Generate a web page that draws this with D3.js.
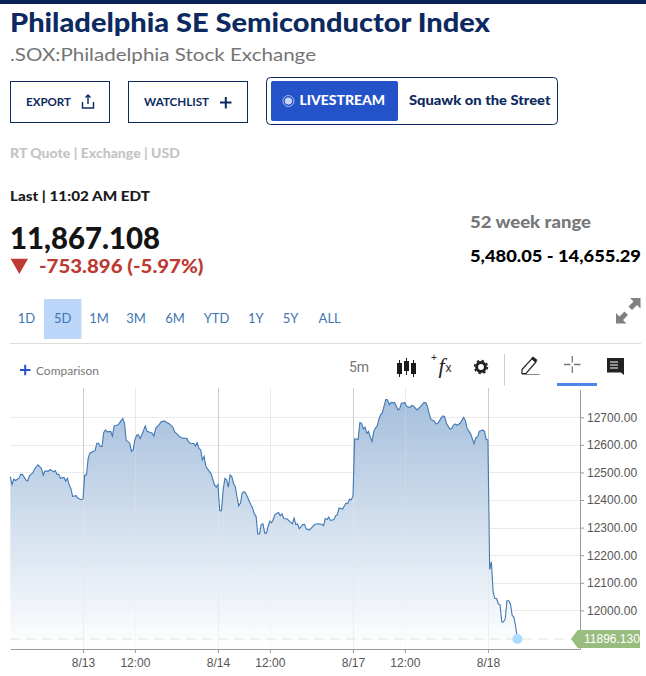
<!DOCTYPE html>
<html>
<head>
<meta charset="utf-8">
<title>Philadelphia SE Semiconductor Index</title>
<script src="https://cdn.jsdelivr.net/npm/d3@7"></script>
<style>
  html, body { margin: 0; padding: 0; background: #fff; overflow: hidden; }
  svg { display: block; }
</style>
</head>
<body>
<div id="chart"></div>
<script>
// 5 minute bars, counted from the first bar on the chart
const bars = [
  0, 1, 2, 3, 5, 6, 7, 9, 10, 11, 13, 14, 16, 18, 19, 20, 22, 23, 25, 26,
  27, 28, 29, 31, 32, 33, 34, 35, 36, 38, 39, 41, 42, 43, 44, 45, 46, 48, 49, 50,
  51, 52, 53, 54, 55, 56, 58, 59, 60, 62, 63, 64, 65, 66, 67, 68, 69, 70, 71, 72,
  73, 74, 75, 76, 78, 79, 81, 82, 83, 84, 86, 87, 89, 90, 92, 94, 95, 96, 98, 100,
  102, 103, 104, 106, 107, 108, 109, 110, 111, 112, 113, 115, 116, 118, 119, 120, 121, 122, 123, 124,
  125, 126, 127, 128, 129, 130, 131, 132, 133, 134, 135, 136, 137, 139, 140, 141, 142, 143, 144, 145,
  146, 147, 148, 149, 150, 151, 152, 153, 155, 156, 157, 158, 160, 162, 163, 164, 165, 166, 167, 169,
  170, 171, 173, 174, 176, 178, 180, 181, 182, 183, 184, 185, 187, 188, 189, 190, 192, 194, 195, 196,
  197, 198, 199, 201, 202, 203, 204, 205, 206, 207, 208, 209, 210, 211, 212, 213, 214, 215, 217, 218,
  219, 220, 222, 223, 224, 225, 226, 228, 229, 231, 232, 233, 235, 237, 239, 240, 241, 242, 243, 245,
  246, 247, 249, 250, 251, 252, 254, 255, 256, 257, 258, 260, 261, 262, 263, 264, 266, 268, 269, 270,
  271, 273, 274, 275, 276, 277, 278, 279, 280, 281, 282, 283, 284, 285, 286, 287, 288, 289, 290, 291,
  292, 293
];
const prices = [
  12485, 12456, 12476, 12471, 12479, 12493, 12493, 12473, 12469, 12488, 12498, 12512, 12528, 12514, 12490, 12505, 12505, 12511, 12502, 12507,
  12493, 12493, 12479, 12482, 12469, 12479, 12455, 12442, 12413, 12416, 12407, 12401, 12403, 12491, 12491, 12552, 12570, 12577, 12579, 12606,
  12606, 12594, 12594, 12645, 12654, 12647, 12649, 12632, 12669, 12672, 12678, 12688, 12695, 12678, 12616, 12612, 12606, 12577, 12582, 12618,
  12635, 12637, 12623, 12636, 12669, 12649, 12645, 12642, 12632, 12660, 12673, 12683, 12687, 12683, 12676, 12664, 12647, 12642, 12628, 12624,
  12624, 12612, 12606, 12605, 12596, 12608, 12587, 12582, 12546, 12558, 12522, 12504, 12495, 12455, 12447, 12456, 12361, 12361, 12437, 12478,
  12473, 12447, 12491, 12485, 12459, 12449, 12411, 12379, 12389, 12425, 12430, 12425, 12411, 12383, 12371, 12350, 12341, 12277, 12277, 12311,
  12314, 12280, 12280, 12305, 12323, 12317, 12331, 12348, 12355, 12343, 12350, 12333, 12331, 12319, 12314, 12335, 12311, 12313, 12296, 12311,
  12312, 12295, 12292, 12299, 12312, 12314, 12312, 12307, 12333, 12329, 12338, 12326, 12329, 12343, 12348, 12371, 12367, 12389, 12387, 12403,
  12401, 12413, 12622, 12620, 12681, 12678, 12657, 12664, 12642, 12649, 12628, 12612, 12648, 12661, 12669, 12693, 12710, 12717, 12765, 12763,
  12746, 12753, 12753, 12741, 12727, 12731, 12751, 12753, 12739, 12736, 12743, 12741, 12727, 12739, 12753, 12753, 12741, 12714, 12693, 12686,
  12676, 12678, 12698, 12705, 12702, 12678, 12657, 12659, 12671, 12676, 12671, 12678, 12690, 12700, 12688, 12659, 12640, 12604, 12626, 12628,
  12649, 12654, 12649, 12620, 12618, 12148, 12176, 12067, 12043, 12043, 12023, 12021, 11958, 11958, 11970, 12035, 12035, 12023, 11982, 11975,
  11943, 11896.13
];
const lastPrice = 11896.13;

const priceTicks = [12000, 12100, 12200, 12300, 12400, 12500, 12600, 12700];
const timeTicks = [42, 72, 120, 150, 198, 228, 276];
const timeLabels = ["8/13", "12:00", "8/14", "12:00", "8/17", "12:00", "8/18"];
const dayTicks = [42, 120, 198, 276];
const rangeLabels = ["1D", "5D", "1M", "3M", "6M", "YTD", "1Y", "5Y", "ALL"];
const points = bars.map((b, i) => ({ bar: b, price: prices[i] }));

const navy = "#0c2a60";
const uiFont = "Lato, 'Open Sans', sans-serif";
const chartFont = "'Liberation Sans', Arial, sans-serif";

const svg = d3.select("#chart").append("svg").attr("width", 646).attr("height", 676);

// text helper, width squeezes the label to the measured width of the original
function label(text, x, y, size, weight, color, width, anchor) {
  const t = svg.append("text")
    .attr("x", x).attr("y", y)
    .attr("font-family", uiFont)
    .attr("font-size", size)
    .attr("font-weight", weight)
    .attr("fill", color)
    .attr("text-anchor", anchor || "start")
    .text(text);
  if (width) t.attr("textLength", width).attr("lengthAdjust", "spacingAndGlyphs");
  return t;
}

function box(x, y, w, h, fill, stroke, rx) {
  return svg.append("rect")
    .attr("x", x).attr("y", y).attr("width", w).attr("height", h)
    .attr("rx", rx || 0)
    .attr("fill", fill)
    .attr("stroke", stroke || "none");
}

function icon(d, fill, stroke, width) {
  return svg.append("path")
    .attr("d", d)
    .attr("fill", fill)
    .attr("stroke", stroke || "none")
    .attr("stroke-width", width || 1);
}

// header
box(0, 0, 646, 4, "#0a2158");
label("Philadelphia SE Semiconductor Index", 10, 32, 26, 900, navy, 480);
label(".SOX:Philadelphia Stock Exchange", 10, 61, 18, 400, "#747474", 306);

box(10.5, 81.5, 99, 41, "#fff", navy);
label("EXPORT", 26, 106, 12, 700, navy, 45);
icon("M82.5 102v6h11v-6M88 104v-9M85.5 97.5L88 95l2.5 2.5", "none", navy, 1.4);

box(128.5, 81.5, 119, 41, "#fff", navy);
label("WATCHLIST", 144, 106, 12, 700, navy, 65);
icon("M220 102.5h11.5M225.8 97v11.5", "none", navy, 2);

box(266.5, 77.5, 291, 47, "#fff", navy, 4);
box(271, 81, 127, 40, "#2453c9", null, 2);
svg.append("circle").attr("cx", 288.4).attr("cy", 101).attr("r", 5.5).attr("fill", "none").attr("stroke", "#a9bdec").attr("stroke-width", 1);
svg.append("circle").attr("cx", 288.4).attr("cy", 101).attr("r", 3.6).attr("fill", "#c7d5f5");
label("LIVESTREAM", 299.5, 105, 13, 900, "#fff", 85.5);
label("Squawk on the Street", 409, 105, 13, 900, navy, 141.5);

label("RT Quote | Exchange | USD", 10, 158, 13, 900, "#c4c4c4", 170);

// quote block
label("Last | 11:02 AM EDT", 10, 200.5, 14, 900, "#1a1a1a", 140);
label("11,867.108", 10, 248.5, 31, 900, "#141414", 150);
icon("M10.7 258.7H28L19.3 274Z", "#bf3a33");
label("-753.896 (-5.97%)", 39, 273, 18, 900, "#bd3b33", 164.5);
label("52 week range", 470, 228, 17, 900, "#777", 121);
label("5,480.05 - 14,655.29", 470, 261.5, 17, 900, "#000", 171);

// range buttons
const rangeCenters = [26.5, 62.8, 99, 136, 175, 216.5, 255.8, 290.5, 329.7];
box(44, 299, 37.4, 40, "#bbd6f8");
rangeLabels.forEach((d, i) => {
  label(d, rangeCenters[i], 322.7, 13, 400, "#3f75b5", null, "middle");
});
// expand arrows
icon("M616 323.5V313l3.5 3.5 5-5 3.5 3.5-5 5 3.5 3.5ZM640.5 298v10.5l-3.5-3.5-5 5-3.5-3.5 5-5-3.5-3.5Z", "#808080");
svg.append("line").attr("x1", 10).attr("x2", 641).attr("y1", 343.5).attr("y2", 343.5).attr("stroke", "#ddd");

// chart toolbar
icon("M20 370h10.5M25.2 364.7v10.5", "none", "#2453c9", 2);
label("Comparison", 36, 374.5, 11.5, 400, "#777", 63);
svg.append("text").attr("x", 349).attr("y", 372).attr("font-family", "Roboto, sans-serif").attr("font-size", 14).attr("fill", "#777").text("5m");
icon("M397 363h5v11h-5ZM404 361h5v10h-5ZM411 363h5v11h-5Z", "#1a1a1a");
icon("M399.5 360v17M406.5 358v17M413.5 360v17", "none", "#1a1a1a", 1);
svg.append("text").attr("x", 431).attr("y", 361).attr("font-family", chartFont).attr("font-size", 10).attr("fill", "#222").text("+");
svg.append("text").attr("x", 438.5).attr("y", 373).attr("font-family", "'Liberation Serif', serif").attr("font-style", "italic").attr("font-size", 22).attr("fill", "#222").text("f");
svg.append("text").attr("x", 445.5).attr("y", 372).attr("font-family", chartFont).attr("font-size", 12).attr("fill", "#222").text("x");
// gear
svg.append("circle").attr("cx", 481).attr("cy", 367).attr("r", 4.4).attr("fill", "none").attr("stroke", "#222").attr("stroke-width", 3);
svg.append("circle").attr("cx", 481).attr("cy", 367).attr("r", 6.4).attr("fill", "none").attr("stroke", "#222").attr("stroke-width", 1.6).attr("stroke-dasharray", "2.5 2.5");
svg.append("line").attr("x1", 504.5).attr("x2", 504.5).attr("y1", 354).attr("y2", 385.5).attr("stroke", "#ccc");
icon("M522 373.5v-4l10-11 4 3.5-10 11.5Z", "#fff", "#222", 1.2);
icon("M531 358.5l2-2 4.5 3.5-2 2.5Z", "#222");
icon("M522 374.5h17.5", "none", "#888", 1);
icon("M564 364.5h6.5M574 364.5h6.5M572.3 356v6.5M572.3 366.5v6.5", "none", "#777", 1.3);
box(557, 383, 40, 3, "#4f84e8");
icon("M607 358h17v17l-3-2.5h-14Z", "#222");
icon("M610 362h8M610 365h8M610 368h8", "none", "#fff", 1);

// chart
const plot = { left: 10.3, right: 580, top: 389.7, bottom: 649 };
const x = d3.scaleLinear().domain([0, 329.2]).range([plot.left, plot.right]);
const y = d3.scaleLinear().domain([11860, 12800]).range([plot.bottom, plot.top]);

const grad = svg.append("defs").append("linearGradient")
  .attr("id", "areaFill")
  .attr("gradientUnits", "userSpaceOnUse")
  .attr("x1", 0).attr("x2", 0).attr("y1", 398).attr("y2", plot.bottom);
grad.append("stop").attr("offset", 0).attr("stop-color", "#a5bfdc");
grad.append("stop").attr("offset", 1).attr("stop-color", "#ffffff");

const chartG = svg.append("g").attr("class", "chart-group");

chartG.selectAll(".h-grid").data(priceTicks).enter().append("line")
  .attr("class", "h-grid")
  .attr("x1", plot.left).attr("x2", plot.right)
  .attr("y1", (d) => Math.round(y(d)) + 0.5).attr("y2", (d) => Math.round(y(d)) + 0.5)
  .attr("stroke", "#eaeaea");

chartG.selectAll(".v-grid").data(timeTicks).enter().append("line")
  .attr("class", "v-grid")
  .attr("x1", (d) => Math.round(x(d)) + 0.5).attr("x2", (d) => Math.round(x(d)) + 0.5)
  .attr("y1", 388).attr("y2", plot.bottom)
  .attr("stroke", (d) => (dayTicks.includes(d) ? "#ccc" : "#eaeaea"));

const area = d3.area().x((d) => x(d.bar)).y0(plot.bottom).y1((d) => y(d.price));
const line = d3.line().x((d) => x(d.bar)).y((d) => y(d.price));

chartG.append("path").datum(points).attr("d", area).attr("fill", "url(#areaFill)");

// the vertical lines only show faintly through the fill
chartG.selectAll(".v-grid-over").data(timeTicks).enter().append("line")
  .attr("class", "v-grid-over")
  .attr("x1", (d) => Math.round(x(d)) + 0.5).attr("x2", (d) => Math.round(x(d)) + 0.5)
  .attr("y1", (d) => y(points.find((p) => p.bar === d).price)).attr("y2", plot.bottom)
  .attr("stroke", "#e6e6e6").attr("stroke-opacity", (d) => (dayTicks.includes(d) ? 0.6 : 0.25));

chartG.append("path").datum(points).attr("d", line)
  .attr("fill", "none").attr("stroke", "#3f78b5").attr("stroke-width", 1.1);

// last price guide, marker and tag
chartG.append("line")
  .attr("x1", plot.left).attr("x2", 571)
  .attr("y1", y(lastPrice)).attr("y2", y(lastPrice))
  .attr("stroke", "#dfe6d5").attr("stroke-dasharray", "10 6");
chartG.append("circle")
  .attr("cx", x(bars[bars.length - 1])).attr("cy", y(lastPrice))
  .attr("r", 5).attr("fill", "#abdcff");

// axes
const yAxis = d3.axisRight(y).tickValues(priceTicks).tickFormat(d3.format(".2f")).tickSize(4).tickSizeOuter(0).tickPadding(3);
const xAxis = d3.axisBottom(x).tickValues(timeTicks).tickFormat((d, i) => timeLabels[i]).tickSize(4).tickSizeOuter(0).tickPadding(5);

const yAxisG = svg.append("g").attr("transform", `translate(${plot.right},0)`).call(yAxis);
const xAxisG = svg.append("g").attr("transform", `translate(0,${plot.bottom})`).call(xAxis);
[yAxisG, xAxisG].forEach((g) => {
  g.selectAll("path").attr("stroke", "#999");
  g.selectAll("line").attr("stroke", "#999");
  g.selectAll("text").attr("fill", "#555").attr("font-family", chartFont).attr("font-size", 12);
});

const tagY = y(lastPrice);
icon(`M571 ${tagY}L577.7 ${tagY - 9}H640V${tagY + 9}H577.7Z`, "#98bd7f");
svg.append("text")
  .attr("x", 584).attr("y", tagY + 4.2)
  .attr("font-family", chartFont).attr("font-size", 12).attr("fill", "#fff")
  .text(d3.format(".3f")(lastPrice));
</script>
</body>
</html>
